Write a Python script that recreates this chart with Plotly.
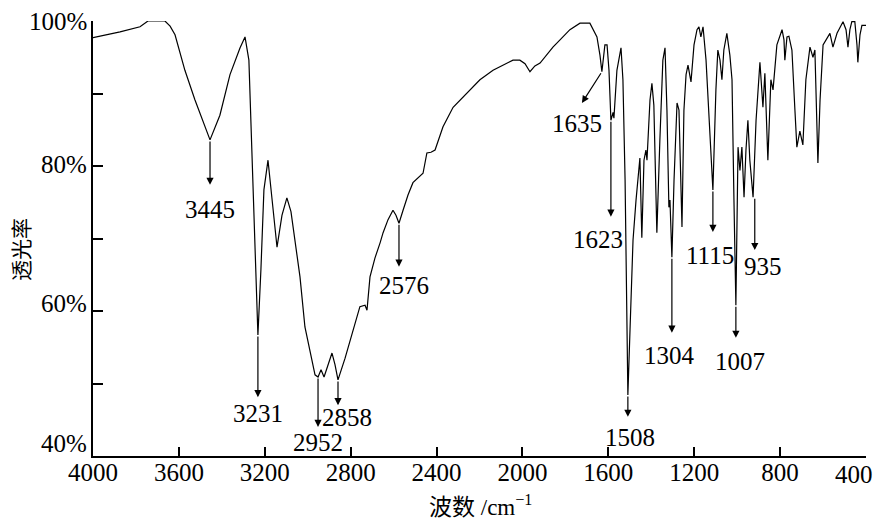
import plotly.graph_objects as go

# Wavenumber (cm^-1) and transmittance (%)
wavenumber = [4000, 3874, 3781, 3744, 3665, 3641, 3618, 3572, 3525, 3478, 3455, 3409, 3362, 3315, 3292,
              3274, 3260, 3246, 3232, 3218, 3204, 3185, 3166, 3143, 3120, 3097, 3078, 3059, 3036, 3013,
              2989, 2966, 2952, 2938, 2924, 2906, 2887, 2873, 2859, 2826, 2794, 2757, 2733, 2724, 2710,
              2687, 2663, 2649, 2626, 2603, 2589, 2575, 2556, 2533, 2510, 2487, 2463, 2445, 2426, 2407,
              2370, 2323, 2258, 2198, 2137, 2044, 2012, 1988, 1965, 1942, 1918, 1858, 1825, 1779, 1732,
              1686, 1653, 1639, 1630, 1616, 1606, 1597, 1588, 1578, 1574, 1560, 1541, 1532, 1522, 1513,
              1509, 1499, 1485, 1471, 1453, 1444, 1434, 1425, 1420, 1406, 1397, 1388, 1374, 1360, 1346,
              1336, 1327, 1318, 1313, 1304, 1294, 1280, 1271, 1257, 1248, 1238, 1229, 1215, 1201, 1187,
              1178, 1169, 1159, 1145, 1131, 1113, 1099, 1090, 1080, 1071, 1062, 1048, 1034, 1024, 1015,
              1006, 996, 987, 978, 968, 959, 950, 941, 926, 912, 894, 880, 871, 857, 843,
              833, 815, 791, 782, 778, 768, 759, 745, 731, 722, 708, 694, 680, 661, 647,
              638, 624, 614, 600, 568, 554, 535, 507, 493, 484, 475, 466, 452, 442, 438,
              428, 419, 400]
transmittance = [97.7, 98.5, 99.2, 100.0, 100.0, 99.3, 98.1, 93.2, 89.1, 85.2, 83.6, 87.0, 92.6, 96.3, 97.8,
                 94.6, 82.2, 67.0, 56.7, 65.7, 76.7, 80.8, 75.3, 68.8, 73.2, 75.6, 73.7, 69.4, 64.7, 57.8,
                 54.2, 51.2, 50.9, 51.9, 50.9, 52.6, 54.2, 52.6, 50.5, 53.5, 56.7, 60.6, 60.8, 60.1, 64.7,
                 67.3, 69.4, 70.8, 72.6, 73.9, 73.2, 72.1, 73.9, 76.0, 77.7, 78.3, 79.0, 81.8, 81.9, 82.2,
                 85.4, 88.1, 90.1, 91.9, 93.2, 94.6, 94.6, 94.1, 93.0, 93.8, 94.2, 96.4, 97.4, 98.8, 99.7,
                 99.7, 97.8, 95.3, 93.0, 96.7, 96.7, 93.2, 86.3, 87.4, 86.6, 93.2, 96.3, 91.9, 78.1, 61.5,
                 48.4, 57.4, 69.8, 75.3, 81.1, 70.1, 80.8, 82.2, 80.8, 89.1, 91.4, 88.4, 70.8, 83.6, 94.6,
                 96.3, 87.7, 74.3, 75.3, 67.4, 78.1, 88.7, 87.7, 71.6, 87.7, 92.6, 93.9, 91.6, 96.7, 98.8,
                 99.2, 97.8, 99.2, 94.6, 86.3, 76.7, 90.5, 96.0, 94.6, 91.9, 96.0, 98.3, 95.3, 91.9, 75.3,
                 60.8, 82.6, 79.4, 82.6, 75.7, 82.2, 86.3, 80.8, 75.7, 86.3, 94.3, 88.1, 92.8, 80.8, 91.9,
                 90.5, 96.7, 98.8, 97.4, 94.6, 97.8, 97.9, 96.0, 87.7, 82.6, 84.8, 82.9, 91.9, 96.4, 95.0,
                 96.0, 80.4, 89.1, 96.7, 98.3, 96.4, 98.3, 99.9, 98.8, 96.4, 98.8, 99.9, 99.9, 96.7, 94.3,
                 98.1, 99.4, 99.4]

# Axis ticks
x_ticks = [4000, 3600, 3200, 2800, 2400, 2000, 1600, 1200, 800, 400]
y_ticks = [40, 60, 80, 100]
y_tick_labels = ["40%", "60%", "80%", "100%"]
y_label_shift_px = [13, 8, 2, 0]  # labels sit slightly above their ticks in the reference

# Peak labels: text, arrow x, arrow tail y, arrow head y, label x, label y
peak_labels = ["3445", "3231", "2952", "2858", "2576", "1635", "1623", "1508", "1304", "1115", "1007", "935"]
peak_x      = [3455, 3232, 2952, 2859, 2575, 1630, 1588, 1509, 1304, 1113, 1006, 918]
arrow_end_x = [3455, 3232, 2952, 2859, 2575, 1723, 1588, 1509, 1304, 1113, 1006, 918]
peak_tail   = [83.6, 56.7, 50.9, 50.5, 72.1, 93.0, 86.3, 48.4, 67.4, 76.7, 60.8, 75.7]
peak_head   = [77.4, 48.1, 44.0, 47.0, 66.1, 88.7, 73.0, 45.4, 57.0, 70.9, 56.3, 68.4]
label_x     = [3455, 3232, 2952, 2815, 2550, 1746, 1650, 1500, 1315, 1125, 987, 880]
label_y     = [74.0, 45.8, 41.8, 45.3, 63.5, 85.8, 69.8, 42.6, 53.8, 67.7, 53.1, 66.2]

SERIF = "Liberation Serif"
CJK = "Noto Sans CJK SC"

W, H = 875, 529
ML, MR, MT, MB = 93, 9, 21, 73
pw, ph = W - ML - MR, H - MT - MB
px_per_unit_y = ph / (y_ticks[-1] - y_ticks[0])

fig = go.Figure()
fig.add_trace(go.Scatter(x=wavenumber, y=transmittance, mode="lines",
                         line=dict(color="black", width=1.2), showlegend=False,
                         hoverinfo="skip"))

ann = []
for t, px, ex, ty, hy, lx, ly in zip(peak_labels, peak_x, arrow_end_x, peak_tail, peak_head, label_x, label_y):
    ann.append(dict(x=ex, y=hy, ax=px, ay=ty, xref="x", yref="y", axref="x", ayref="y",
                    showarrow=True, arrowhead=2, arrowsize=1.2, arrowwidth=1.2,
                    arrowcolor="black", text=""))
    ann.append(dict(x=lx, y=ly, xref="x", yref="y", text=t, showarrow=False,
                    font=dict(family=SERIF, size=25, color="black")))

# y tick labels
for v, t, s in zip(y_ticks, y_tick_labels, y_label_shift_px):
    ann.append(dict(xref="paper", yref="y", x=-4 / pw, y=v + s / px_per_unit_y,
                    xanchor="right", yanchor="middle", text=t, showarrow=False,
                    font=dict(family=SERIF, size=25, color="black")))

# right-most x tick label, kept inside the page as in the reference
ann.append(dict(xref="paper", yref="paper", x=1 + MR / pw, y=-(474 - (H - MB)) / ph,
                xanchor="right", yanchor="middle", text=str(x_ticks[-1]), showarrow=False,
                font=dict(family=SERIF, size=25, color="black")))

# axis titles (placed in paper coordinates)
ann.append(dict(xref="paper", yref="paper", x=(20 - ML) / pw, y=1 - (250 - MT) / ph,
                xanchor="center", yanchor="middle", text="透光率", showarrow=False,
                textangle=-90, font=dict(family=CJK, size=21, color="black")))
ann.append(dict(xref="paper", yref="paper", x=(480 - ML) / pw, y=1 - (505 - MT) / ph,
                xanchor="center", yanchor="middle",
                text=f'<span style="font-family:{CJK}">波数</span> /cm<sup>−1</sup>',
                showarrow=False, font=dict(family=SERIF, size=23, color="black")))

fig.update_layout(
    width=W, height=H,
    margin=dict(l=ML, r=MR, t=MT, b=MB, autoexpand=False),
    paper_bgcolor="white", plot_bgcolor="white",
    annotations=ann,
    font=dict(family=SERIF, size=25, color="black"),
    xaxis=dict(range=[4000, 400], tickvals=x_ticks,
               ticktext=[str(v) for v in x_ticks[:-1]] + [""],
               ticks="inside", ticklen=9, tickwidth=2, tickcolor="black", automargin=False,
               ticklabeloverflow="allow", ticklabelstandoff=-7,
               showline=True, linecolor="black", linewidth=2, showgrid=False, zeroline=False,
               tickfont=dict(family=SERIF, size=25, color="black")),
    yaxis=dict(range=[40, 100], tickvals=y_ticks, showticklabels=False,
               ticks="inside", ticklen=10, tickwidth=2, tickcolor="black", automargin=False,
               minor=dict(tickvals=[50, 70, 90], ticks="inside", ticklen=10, tickwidth=2, tickcolor="black"),
               showline=True, linecolor="black", linewidth=2, showgrid=False, zeroline=False),
)

fig.write_html("out.html", config={"displayModeBar": False},
               post_script="document.body.style.margin='0';document.body.style.overflow='hidden';")
